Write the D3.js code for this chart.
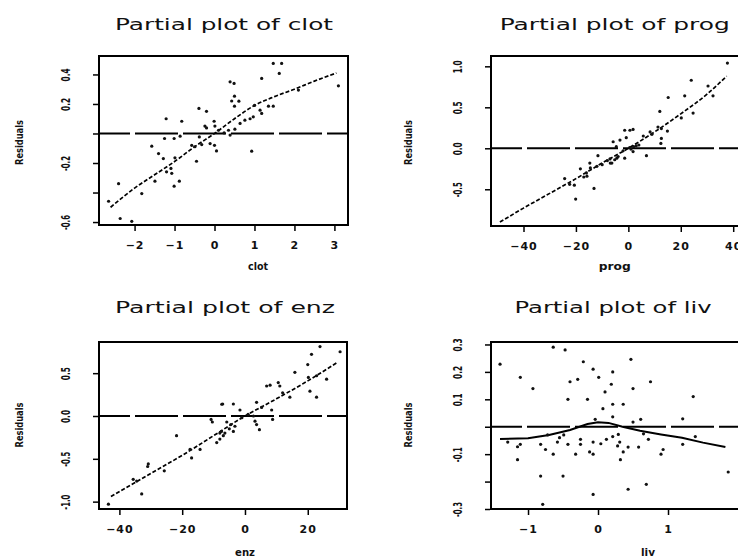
<!DOCTYPE html>
<meta charset="utf-8">
<style>
body { margin: 0; background: #fff; }
text { font-family: "DejaVu Sans", sans-serif; fill: #111; }
.title { font-size: 16px; }
.ytick text { font-size: 12px; font-weight: bold; }
.xtick text { font-size: 11px; font-weight: bold; letter-spacing: 1px; }
.ytick path, .xtick path { display: none; }
.ytick line, .xtick line { stroke: #000; stroke-width: 1.5px; }
.ylab, .xlab { font-size: 11px; font-weight: bold; }
.frame { fill: none; stroke: #000; stroke-width: 2px; }
.zero { stroke: #000; stroke-width: 2px; stroke-dasharray: 43,5; stroke-dashoffset: 12; }
.fit { fill: none; stroke: #000; stroke-width: 1.7px; stroke-dasharray: 4,2; }
.fit.solid { stroke-dasharray: none; stroke-width: 2px; }
.dot { fill: #111; }
</style>
<svg width="738" height="559"></svg>
<script src="https://d3js.org/d3.v7.min.js"></script>
<script>

// partial residuals, [x, residual]
var clotPts = [[-0.39,0.17],[-0.2,0.15],[-1.21,0.10],[-0.82,0.083],[-0.24,0.05],[-0.01,0.083],[0.01,0.05],
  [-1.25,-0.034],[-1.01,-0.034],[-0.86,-0.018],[-1.57,-0.086],[-0.57,-0.08],[-0.49,-0.09],[-0.32,-0.075],
  [-0.11,-0.068],[0.0,-0.08],[0.05,-0.118],[-1.4,-0.136],[-1.28,-0.17],[-0.99,-0.165],[-0.45,-0.188],
  [-1.09,-0.237],[-1.2,-0.26],[-1.07,-0.27],[-2.4,-0.34],[-1.49,-0.323],[-0.88,-0.323],[-1.01,-0.357],
  [-1.82,-0.407],[-2.65,-0.459],[-2.36,-0.576],[-2.07,-0.595],[1.47,0.475],[1.68,0.475],[1.62,0.407],
  [1.18,0.373],[3.1,0.323],[0.39,0.35],[0.49,0.339],[0.5,0.253],[0.43,0.22],[0.61,0.219],[0.5,0.185],
  [1.0,0.19],[1.14,0.158],[1.35,0.185],[1.47,0.185],[2.1,0.294],[0.76,0.09],[0.89,0.1],[0.97,0.113],
  [1.18,0.136],[0.64,0.068],[0.51,0.029],[0.35,0.022],[0.39,-0.011],[0.93,-0.12],[-0.2,0.038],
  [0.1,0.022],[0.24,0.004],[-0.38,-0.023]];
var clotFit = [[-2.6,-0.50],[-2,-0.37],[-1.5,-0.28],[-1,-0.19],[-0.5,-0.09],[0,0],[0.5,0.1],[1,0.19],
  [1.5,0.25],[2,0.30],[2.5,0.355],[3.05,0.41]];
var clotXTicks = [-2, -1, 0, 1, 2, 3];
var clotYTicks = [-0.6, -0.4, -0.2, 0, 0.2, 0.4];
var clotYLabels = ["-0.6", "", "-0.2", "", "0.2", "0.4"];

var progPts = [[-24.3,-0.37],[-22.4,-0.44],[-20.1,-0.62],[-18.3,-0.25],[-14.7,-0.18],[-15.8,-0.34],
  [-14.5,-0.24],[-13.1,-0.49],[-11.6,-0.09],[-5.2,-0.14],[-3.9,-0.1],[-5.8,0.08],[-4.6,0.02],[-1.4,0.22],
  [1.8,0.23],[-0.8,0.13],[-1.4,-0.12],[1.8,-0.04],[6.9,-0.09],[12.6,0.12],[12.6,0.24],[11.3,0.26],
  [12.4,0.06],[12,0.45],[15.2,0.62],[14.9,0.21],[21.5,0.64],[24,0.83],[24.7,0.43],[30.4,0.76],[32.3,0.64],
  [37.8,1.04],[20.2,0.37],[8.3,0.2],[5.7,0.15],[-3.2,0.10],[-6.3,-0.18],[-4.4,-0.12],[-17,-0.35],
  [-20.6,-0.45],[-12,-0.22],[-10,-0.2],[-8,-0.15],[-7,-0.13],[-2,-0.03],[0.5,0.01],[2,0.02],[3,0.03],
  [9,0.17],[-16,-0.3],[0.6,0.22],[-6.9,-0.18],[4,0.04],[1,-0.01]];
var progFit = [[-49,-0.9],[-40,-0.73],[-30,-0.55],[-20,-0.37],[-10,-0.18],[0,0],[10,0.2],[20,0.42],
  [30,0.66],[37.5,0.88]];
var progXTicks = [-40, -20, 0, 20, 40];
var progYTicks = [-0.5, 0, 0.5, 1.0];
var progYLabels = ["-0.5", "0.0", "0.5", "1.0"];

var enzPts = [[-7.4,0.137],[-10.8,-0.04],[-10.4,-0.07],[-21.8,-0.23],[-17,-0.49],[-17.5,-0.39],
  [-14.3,-0.39],[-30.8,-0.56],[-31,-0.59],[-25.7,-0.64],[-35.6,-0.74],[-34.5,-0.76],[-32.9,-0.91],
  [-43.5,-1.03],[-8,-0.27],[-6.9,-0.23],[-9,-0.31],[23.9,0.81],[30.3,0.75],[21.2,0.72],[20,0.60],
  [15.9,0.51],[6.9,0.35],[8,0.36],[10.6,0.39],[11.1,0.35],[20.2,0.45],[22.8,0.47],[26,0.43],[20.7,0.29],
  [22.8,0.22],[14.3,0.22],[-7.1,0.14],[-3.7,0.14],[-1.6,0.07],[3.7,0.16],[5.3,0.1],[8.5,0.07],[2.7,0],
  [3.2,-0.06],[8.8,-0.04],[3.7,-0.1],[4.6,-0.16],[-5.8,-0.07],[-3.2,-0.12],[-3.7,-0.18],[-6.4,-0.2],
  [-8,-0.2],[-1,-0.02],[1,0.02],[12,0.27],[-5,-0.15],[-4.5,-0.1],[-7.5,-0.18]];
var enzFit = [[-42.7,-0.94],[-30,-0.67],[-20,-0.46],[-10,-0.23],[0,0],[10,0.2],[20,0.41],[29.2,0.62]];
var enzXTicks = [-40, -20, 0, 20];
var enzYTicks = [-1.0, -0.5, 0, 0.5];
var enzYLabels = ["-1.0", "-0.5", "0.0", "0.5"];

var livPts = [[-1.40,0.228],[-1.11,0.18],[-0.93,0.139],[-0.64,0.29],[-0.47,0.28],[-0.21,0.237],
  [-0.07,0.21],[0.01,0.18],[-0.4,0.164],[-0.29,0.173],[-0.43,0.1],[-0.15,0.1],[0.21,0.2],[0.19,0.155],
  [0.1,0.127],[0.07,0.066],[0.21,0.082],[0.21,0.036],[-0.04,0.027],[-1.29,-0.056],[-1.15,-0.073],
  [-1.11,-0.064],[-0.82,-0.064],[-0.72,-0.03],[-0.75,-0.083],[-0.64,-0.1],[-1.15,-0.12],[-0.58,-0.056],
  [-0.55,-0.04],[-0.49,-0.03],[-0.43,-0.064],[-0.25,-0.046],[-0.25,-0.064],[-0.32,-0.1],[-0.12,-0.092],
  [-0.07,-0.1],[-0.07,-0.056],[0.04,-0.062],[0.12,-0.046],[-0.82,-0.18],[-0.5,-0.18],[-0.07,-0.247],
  [-0.79,-0.283],[0.21,-0.036],[0.47,0.246],[0.75,0.164],[0.5,0.139],[1.36,0.11],[0.36,0.082],
  [0.61,0.027],[0.5,0.017],[1.21,0.029],[0.29,-0.028],[0.65,-0.026],[0.72,-0.046],[1.39,-0.036],
  [1.21,-0.064],[0.31,-0.056],[0.28,-0.07],[0.43,-0.074],[0.58,-0.074],[0.36,-0.092],[0.93,-0.083],
  [0.9,-0.1],[0.32,-0.12],[1.86,-0.165],[0.69,-0.21],[0.43,-0.228]];
var livFit = [[-1.40,-0.045],[-1.0,-0.042],[-0.7,-0.03],[-0.4,-0.012],[-0.15,0.01],[0,0.016],[0.15,0.014],
  [0.35,0.0],[0.6,-0.015],[0.9,-0.028],[1.2,-0.04],[1.5,-0.058],[1.82,-0.074]];
var livXTicks = [-1, 0, 1];
var livYTicks = [-0.3, -0.2, -0.1, 0, 0.1, 0.2, 0.3];
var livYLabels = ["-0.3", "", "-0.1", "", "0.1", "0.2", "0.3"];

var svg = d3.select("svg");

// layout of the four panels (box = left, top, right, bottom in px)
var panels = [
  { name: "clot", pts: clotPts, fit: clotFit, xt: clotXTicks, yt: clotYTicks, yl: clotYLabels,
    xd: [-2.89, 3.34], yd: [-0.62, 0.525], box: [99, 56, 348, 225],
    title: [224, 29.5, 218], xlab: [258, 270, 20], ylab: [23, 142.5] },
  { name: "prog", pts: progPts, fit: progFit, xt: progXTicks, yt: progYTicks, yl: progYLabels,
    xd: [-52.4, 44.5], yd: [-0.948, 1.126], box: [491, 56, 745, 226],
    title: [614.7, 30, 230], xlab: [614.7, 270, 32], ylab: [411.5, 142.5] },
  { name: "enz", pts: enzPts, fit: enzFit, xt: enzXTicks, yt: enzYTicks, yl: enzYLabels,
    xd: [-46.5, 32.5], yd: [-1.086, 0.864], box: [99, 342, 347, 509],
    title: [225, 313, 220], xlab: [245, 556, 20], ylab: [23, 425] },
  { name: "liv", pts: livPts, fit: livFit, xt: livXTicks, yt: livYTicks, yl: livYLabels,
    xd: [-1.529, 2.1], yd: [-0.300, 0.309], box: [491, 342, 745, 509],
    title: [613, 313, 197], xlab: [648, 556, 14], ylab: [411.5, 425] }
];

panels.forEach(function(p) {
  var l = p.box[0], t = p.box[1], r = p.box[2], b = p.box[3];
  var x = d3.scaleLinear().domain(p.xd).range([l, r]);
  var y = d3.scaleLinear().domain(p.yd).range([b, t]);

  svg.append("text")
      .attr("class", "title")
      .attr("x", p.title[0])
      .attr("y", p.title[1])
      .attr("text-anchor", "middle")
      .attr("textLength", p.title[2])
      .attr("lengthAdjust", "spacingAndGlyphs")
      .text("Partial plot of " + p.name);

  svg.append("rect")
      .attr("class", "frame")
      .attr("x", l).attr("y", t)
      .attr("width", r - l).attr("height", b - t);

  var yAxis = svg.append("g")
      .attr("class", "ytick")
      .attr("transform", "translate(" + (l - 1) + ",0)")
      .call(d3.axisLeft(y).tickValues(p.yt).tickSize(5).tickSizeOuter(0)
        .tickFormat(function(d, i) { return p.yl[i]; }));
  yAxis.selectAll("text")
      .attr("x", null).attr("dy", null)
      .attr("text-anchor", "middle")
      .attr("transform", "translate(-28,0) rotate(-90)")
      .attr("textLength", function(d, i) { return p.yl[i].length > 3 ? 15 : 13; })
      .attr("lengthAdjust", "spacingAndGlyphs");

  var xAxis = svg.append("g")
      .attr("class", "xtick")
      .attr("transform", "translate(0," + (b + 1) + ")")
      .call(d3.axisBottom(x).tickValues(p.xt).tickSize(5).tickSizeOuter(0)
        .tickFormat(d3.format("d")));
  xAxis.selectAll("text")
      .attr("dy", null)
      .attr("y", 22.5);

  svg.append("text")
      .attr("class", "ylab")
      .attr("text-anchor", "middle")
      .attr("transform", "translate(" + p.ylab[0] + "," + p.ylab[1] + ") rotate(-90)")
      .attr("textLength", 45)
      .attr("lengthAdjust", "spacingAndGlyphs")
      .text("Residuals");

  svg.append("text")
      .attr("class", "xlab")
      .attr("x", p.xlab[0])
      .attr("y", p.xlab[1])
      .attr("text-anchor", "middle")
      .attr("textLength", p.xlab[2])
      .attr("lengthAdjust", "spacingAndGlyphs")
      .text(p.name);

  var g = svg.append("g");

  g.append("line")
      .attr("class", "zero")
      .attr("x1", l).attr("x2", r)
      .attr("y1", y(0)).attr("y2", y(0));

  g.append("path")
      .datum(p.fit)
      .attr("class", p.name == "liv" ? "fit solid" : "fit")
      .attr("d", d3.line()
        .x(function(d) { return x(d[0]); })
        .y(function(d) { return y(d[1]); })
        .curve(p.name == "liv" ? d3.curveLinear : d3.curveMonotoneX));

  g.selectAll("circle")
      .data(p.pts)
      .enter().append("circle")
      .attr("class", "dot")
      .attr("cx", function(d) { return x(d[0]); })
      .attr("cy", function(d) { return y(d[1]); })
      .attr("r", 1.6);
});

</script>
